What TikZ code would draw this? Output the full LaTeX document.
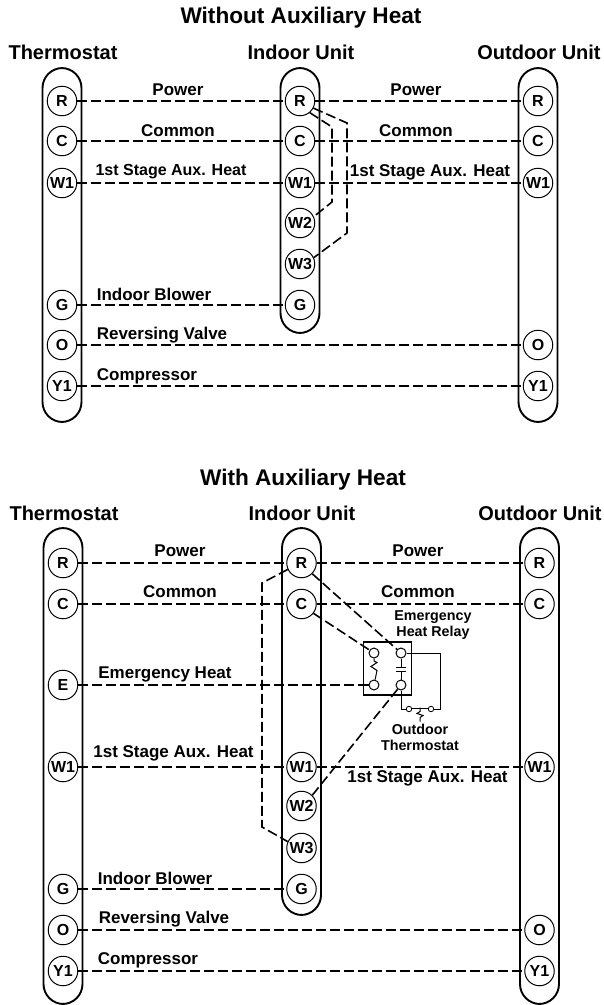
\documentclass[tikz,border=0pt]{standalone}
\usepackage{fontspec}
\setmainfont{Liberation Sans}
\newcommand{\fs}[1]{\fontsize{#1}{#1}\selectfont\bfseries}
\begin{document}
\begin{tikzpicture}[x=1pt,y=-1pt,
  col/.style={draw,line width=1.9pt,rounded corners=20pt,minimum width=39pt,inner sep=0pt,outer sep=0pt},
  term/.style={circle,draw,fill=white,line width=1pt,minimum size=29.5pt,inner sep=0pt,font=\fs{16}},
  wire/.style={line width=1.6pt,dash pattern=on 10pt off 4pt},
  lbl/.style={inner sep=0pt,font=\fs{17}},
  head/.style={inner sep=0pt,font=\fs{20}},
  ttl/.style={inner sep=0pt,font=\fs{22.6}},
  small/.style={inner sep=0pt,font=\fs{14.3},align=center},
  pin/.style={circle,draw,fill=white,line width=1pt,minimum size=10pt,inner sep=0pt},
  tiny/.style={circle,draw,fill=white,line width=.8pt,minimum size=5.5pt,inner sep=0pt},
  thin/.style={line width=1pt}]
\useasboundingbox (0,0) rectangle (604,1005);
\fill[white] (0,0) rectangle (604,1005);
% ---- top
\node[ttl] (t1) at (301,18) {Without Auxiliary Heat};
\node[head] (h1) at (63,52) {Thermostat};
\node[head] (h2) at (301,52) {Indoor Unit};
\node[head] (h3) at (539,52) {Outdoor Unit};
\node[col,minimum height=354pt] (ca) at (62,245) {};
\node[col,minimum height=265pt] (cb) at (300,200.5) {};
\node[col,minimum height=354pt] (cc) at (538,245) {};
\foreach \n/\t/\y in {R/R/101,C/C/141,W/W1/183,G/G/305,O/O/345,Y/Y1/386}{\node[term] (a\n) at (62,\y) {\t};}
\foreach \n/\t/\y in {R/R/101,C/C/141,W/W1/183,U/W2/223,V/W3/264,G/G/305}{\node[term] (b\n) at (300,\y) {\t};}
\foreach \n/\t/\y in {R/R/101,C/C/141,W/W1/183,O/O/345,Y/Y1/386}{\node[term] (c\n) at (538,\y) {\t};}
\draw[wire] (aR)--(bR); \draw[wire] (aC)--(bC); \draw[wire] (aW)--(bW); \draw[wire] (aG)--(bG);
\draw[wire] (bR)--(cR); \draw[wire] (bC)--(cC); \draw[wire] (bW)--(cW);
\draw[wire] (aO)--(cO); \draw[wire] (aY)--(cY);
\coordinate (p1) at (332,127); \coordinate (p2) at (332,202);
\coordinate (p3) at (347,123); \coordinate (p4) at (347,233);
\draw[wire] (bR.-50)--(p1)--(p2)--(bU.25);
\draw[wire] (bR.-28)--(p3)--(p4)--(bV.25);
\node[lbl] (l1) at (178,90) {Power};
\node[lbl] (l2) at (178,131) {Common};
\node[lbl,font=\fs{16}] (l3) at (171,172) {1st Stage Aux. Heat};
\node[lbl] (l4) at (154,294) {Indoor Blower};
\node[lbl] (l5) at (162,335) {Reversing Valve};
\node[lbl] (l6) at (147,376) {Compressor};
\node[lbl] (l7) at (416,90) {Power};
\node[lbl] (l8) at (416,131) {Common};
\node[lbl] (l9) at (430,172) {1st Stage Aux. Heat};
% ---- bottom
\node[ttl] (t2) at (303,480) {With Auxiliary Heat};
\node[head] (i1) at (64,513) {Thermostat};
\node[head] (i2) at (302,513) {Indoor Unit};
\node[head] (i3) at (540,513) {Outdoor Unit};
\node[col,minimum height=476pt] (da) at (63,766) {};
\node[col,minimum height=387pt] (db) at (301.5,721.5) {};
\node[col,minimum height=476pt] (dc) at (539.5,766) {};
\foreach \n/\t/\y in {R/R/563,C/C/604,E/E/685,W/W1/767,G/G/889,O/O/930,Y/Y1/971}{\node[term] (e\n) at (63,\y) {\t};}
\foreach \n/\t/\y in {R/R/563,C/C/604,W/W1/767,U/W2/806,V/W3/848,G/G/889}{\node[term] (f\n) at (301.5,\y) {\t};}
\foreach \n/\t/\y in {R/R/563,C/C/604,W/W1/767,O/O/930,Y/Y1/971}{\node[term] (g\n) at (539.5,\y) {\t};}
% relay
\node[draw,line width=1.3pt,minimum width=48pt,minimum height=53pt,inner sep=0pt] (box) at (387.5,668.5) {};
\node[pin] (k1) at (374,653) {};
\node[pin] (k2) at (401,653) {};
\node[pin] (k3) at (374,685) {};
\node[pin] (k4) at (401,685) {};
\node[tiny] (s1) at (409,709) {};
\node[tiny] (s2) at (431,709) {};
\coordinate (q1) at (440,653); \coordinate (q2) at (440,709);
\coordinate (q3) at (401,709);
\draw[thin] (k2)--(q1)--(q2)--(s2);
\draw[thin] (k4)--(q3)--(s1);
\draw[thin] (s1.15)--(s2.165);
\coordinate (z1) at (420,707.5);
\draw[thin] (z1)--++(0,4)--++(-3,2)--++(6,2)--++(-3,2)--++(0,4);
\draw[thin] (k1)--++(0,8)--++(3,1.5)--++(-6,4)--++(6,4)--(k3);
\coordinate (u1) at (396,667); \coordinate (u2) at (406,667);
\coordinate (v1) at (396,671.5); \coordinate (v2) at (406,671.5);
\coordinate (um) at (401,667); \coordinate (vm) at (401,671.5);
\draw[thin] (u1)--(u2); \draw[thin] (v1)--(v2);
\draw[thin] (k2)--(um); \draw[thin] (k4)--(vm);
% wires
\draw[wire] (eR)--(fR); \draw[wire] (eC)--(fC); \draw[wire] (eW)--(fW); \draw[wire] (eG)--(fG);
\draw[wire] (fR)--(gR); \draw[wire] (fC)--(gC); \draw[wire] (fW)--(gW);
\draw[wire] (eO)--(gO); \draw[wire] (eY)--(gY);
\draw[wire] (eE)--(box.west|-k3);
\draw[line width=1.5pt] (box.west|-k3)--(k3);
\coordinate (r1) at (262,583); \coordinate (r2) at (262,827);
\draw[wire] (fR.205)--(r1)--(r2)--(fV.155);
\draw[wire] (fR.-45)--(k2);
\draw[wire] (fC.-38)--(k1);
\draw[wire] (fU.45)--(k4);
\node[lbl] (m1) at (180,551) {Power};
\node[lbl] (m2) at (180,592) {Common};
\node[lbl] (m3) at (165,674) {Emergency Heat};
\node[lbl] (m4) at (173.5,753) {1st Stage Aux. Heat};
\node[lbl] (m5) at (155,878) {Indoor Blower};
\node[lbl] (m6) at (164,919) {Reversing Valve};
\node[lbl] (m7) at (148,960) {Compressor};
\node[lbl] (m8) at (418,551) {Power};
\node[lbl] (m9) at (418,592) {Common};
\node[lbl] (m10) at (427.5,778) {1st Stage Aux. Heat};
\node[small] (m11) at (433,625) {Emergency\\[1pt]Heat Relay};
\node[small] (m12) at (420,737.5) {Outdoor\\[1pt]Thermostat};
\end{tikzpicture}
\end{document}
